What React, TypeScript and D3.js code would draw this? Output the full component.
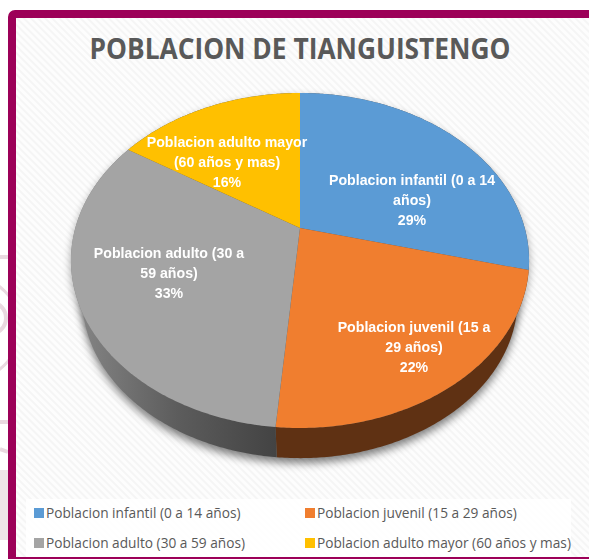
import React from "react";
import * as d3 from "d3";

const categories = ["Poblacion infantil (0 a 14 años)", "Poblacion juvenil (15 a 29 años)", "Poblacion adulto (30 a 59 años)", "Poblacion adulto mayor (60 años y mas)"];
const values = [29, 22.4, 32.6, 16];
const colors = ["#5B9BD5", "#F07E2F", "#A4A4A4", "#FFC000"];
const labelLines = [
  ["Poblacion infantil (0 a 14", "años)"],
  ["Poblacion juvenil (15 a", "29 años)"],
  ["Poblacion adulto (30 a", "59 años)"],
  ["Poblacion adulto mayor", "(60 años y mas)"],
];
const labelPos = [[412, 185], [414, 332], [169, 258], [227, 147]];
const legendPos = [[34, 513], [305, 513], [34, 543], [305, 543]];

// perspective projection of the unit disc onto the tilted top face
const apexX = 300, apexY = 228, persp = -0.194, scaleX = 224.7, scaleY = 161.2;
const faceCy = 260.5, baseScale = 0.95, baseCy = 299;

type P = [number, number];
const top = (a: number): P => {
  const u = Math.sin(a), v = -Math.cos(a), w = 1 + persp * v;
  return [apexX + (scaleX * u) / w, apexY + (scaleY * v) / w];
};
const base = (a: number): P => {
  const [x, y] = top(a);
  return [apexX + baseScale * (x - apexX), baseCy + baseScale * (y - faceCy)];
};
const sweep = (s: number, e: number) => {
  const n = Math.max(2, Math.ceil((e - s) / 0.01));
  return d3.range(n + 1).map((k) => s + ((e - s) * k) / n);
};
const line = d3.line<P>();
const fmt = d3.format(".0f");

export default function App() {
  const arcs = d3.pie<number>().sort(null)(values);
  const facePath = (s: number, e: number) => line([[apexX, apexY], ...sweep(s, e).map(top)]) + "Z";
  const sidePath = (s: number, e: number) =>
    line([...sweep(s, e).map(top), ...sweep(s, e).reverse().map(base)]) + "Z";
  const full = sweep(0, 2 * Math.PI);
  return (
    <svg width={589} height={559} style={{ position: "absolute", left: 0, top: 0, fontFamily: "'Open Sans', sans-serif" }}>
      <defs>
        <pattern id="hatch" width="5" height="5" patternUnits="userSpaceOnUse" patternTransform="rotate(45)">
          <rect width="5" height="5" fill="#fdfdfd" />
          <rect width="5" height="2" fill="#f5f5f5" />
        </pattern>
        <linearGradient id="sideGray" gradientUnits="userSpaceOnUse" x1="80" x2="277" y1="0" y2="0">
          <stop offset="0" stopColor="#848484" />
          <stop offset="0.5" stopColor="#5c5c5c" />
          <stop offset="1" stopColor="#434343" />
        </linearGradient>
        <filter id="blur" x="-20%" y="-20%" width="140%" height="140%">
          <feGaussianBlur stdDeviation="4.5" />
        </filter>
        <filter id="soft" x="-5%" y="-20%" width="110%" height="140%">
          <feGaussianBlur stdDeviation="0.3" />
        </filter>
      </defs>

      <rect width={589} height={559} fill="#fff" />
      {/* watermark outside the frame */}
      <g fill="none" stroke="#e9d9e0" strokeWidth={3}>
        <circle cx={-32} cy={328} r={52} />
        <circle cx={-10} cy={318} r={16} strokeWidth={4} />
        <path d="M0,257H8M0,422H8M0,449L8,452" strokeWidth={4} />
      </g>
      <rect x={0} y={470} width={8} height={70} fill="#eee6e9" />

      {/* frame */}
      <rect x={12} y={14} width={590} height={547} rx={3} fill="url(#hatch)" stroke="#9C0058" strokeWidth={8} />

      <text x={300} y={59} textAnchor="middle" fontSize={28} fontWeight={700} fill="#595959" textLength={421} lengthAdjust="spacingAndGlyphs">
        POBLACION DE TIANGUISTENGO
      </text>

      {/* soft shadow */}
      <path d={line(full.map(base)) + "Z"} fill="#000" opacity={0.5} filter="url(#blur)" transform="translate(0,5)" />
      <path d={line(full.map(top)) + "Z"} fill="#000" opacity={0.35} filter="url(#blur)" transform="translate(0,4)" />

      {/* extruded side */}
      {arcs.map((d, i) => (
        <path key={i} d={sidePath(d.startAngle, d.endAngle)} fill={i === 1 ? "#5F3113" : i === 2 ? "url(#sideGray)" : "#555"} />
      ))}

      {/* top faces */}
      {arcs.map((d, i) => (
        <path key={i} d={facePath(d.startAngle, d.endAngle)} fill={colors[i]} />
      ))}

      {/* data labels */}
      {labelLines.map((lines, i) => (
        <g key={i} transform={`translate(${labelPos[i][0]},${labelPos[i][1]}) scale(0.945,1)`} filter="url(#soft)">
          <text textAnchor="middle" fontSize={15} fontWeight={700} fill="#fff" fontFamily="'Liberation Sans', Arial, sans-serif">
            <tspan x={0} y={0}>{lines[0]}</tspan>
            <tspan x={0} y={20}>{lines[1]}</tspan>
            <tspan x={0} y={40}>{fmt(values[i])}%</tspan>
          </text>
        </g>
      ))}

      {/* legend */}
      <rect x={26} y={499} width={545} height={58} fill="#fff" opacity={0.85} />
      {categories.map((c, i) => (
        <g key={c}>
          <rect x={legendPos[i][0]} y={legendPos[i][1] - 5} width={10} height={10} fill={colors[i]} />
          <text x={legendPos[i][0] + 12} y={legendPos[i][1] + 5} fontSize={13.7} fill="#595959">{c}</text>
        </g>
      ))}
    </svg>
  );
}
